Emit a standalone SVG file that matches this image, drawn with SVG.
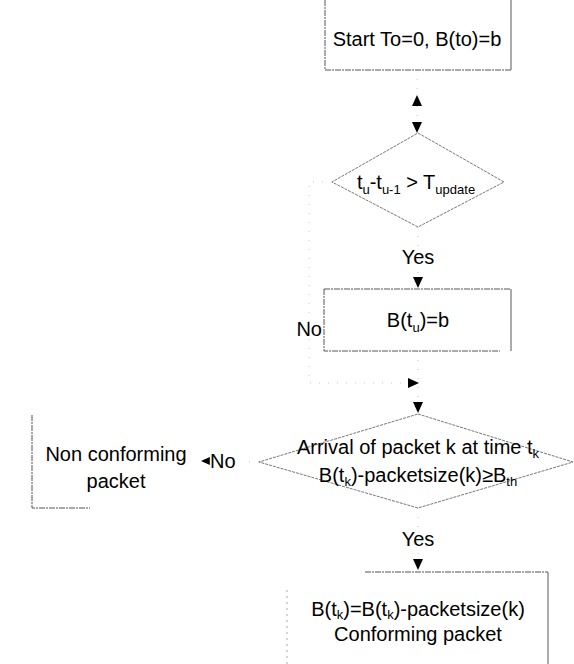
<svg xmlns="http://www.w3.org/2000/svg" xmlns:xlink="http://www.w3.org/1999/xlink" width="574" height="664" viewBox="0 0 574 664">
<style>
  text { font-family: "Liberation Sans", Arial, sans-serif; font-size: 20px; fill: #000; }
  .sub { font-size: 13px; fill: #000; }
  .box { fill: none; stroke: #555; stroke-width: 1; stroke-dasharray: 6 1 2 1; }
  .edge { fill: none; stroke: #888; stroke-width: 1.4; }
  .dia { fill: none; stroke: #666; stroke-width: 0.9; stroke-dasharray: 3 1; }
  .conn { fill: none; stroke: #c8c8c8; stroke-width: 1; stroke-dasharray: 1 8; }
  .arrow { fill: #000; }
</style>
<defs>
  <path id="tri" d="M-5,-11 L5,-11 L0,0 Z"/>
</defs>
<rect width="574" height="664" fill="#fff"/>

<g id="connectors">
  <path class="conn" d="M417,70 V133"/>
  <path class="conn" d="M418,227 V289"/>
  <path class="conn" d="M332,182 H309 V383 H418"/>
  <path class="conn" d="M418,351 V414"/>
  <path class="conn" d="M259,462 H245"/>
  <path class="conn" d="M418,508 V571"/>
  <use class="arrow" xlink:href="#tri" transform="translate(417,95) rotate(180)"/>
  <use class="arrow" xlink:href="#tri" transform="translate(417,133)"/>
  <use class="arrow" xlink:href="#tri" transform="translate(418,288)"/>
  <use class="arrow" xlink:href="#tri" transform="translate(419,383) rotate(-90)"/>
  <use class="arrow" xlink:href="#tri" transform="translate(418,413)"/>
  <use class="arrow" xlink:href="#tri" transform="translate(201,461) rotate(90) scale(0.8)"/>
  <use class="arrow" xlink:href="#tri" transform="translate(418,570)"/>
  <text x="418" y="264" text-anchor="middle">Yes</text>
  <text x="322" y="336" text-anchor="end">No</text>
  <text x="210" y="468">No</text>
  <text x="418" y="546" text-anchor="middle">Yes</text>
</g>

<g id="start">
  <path class="box" d="M325,0 V70 H511"/>
  <path class="edge" d="M511,0 V70"/>
  <text x="417" y="46" text-anchor="middle">Start To=0, B(to)=b</text>
</g>

<g id="check-update">
  <polygon class="dia" points="418,133 504,182 418,227 332,182"/>
  <text x="416" y="189" text-anchor="middle">t<tspan class="sub" dy="5">u</tspan><tspan dy="-5">-t</tspan><tspan class="sub" dy="5">u-1</tspan><tspan dy="-5"> &gt; T</tspan><tspan class="sub" dy="5">update</tspan></text>
</g>

<g id="reset-bucket">
  <path class="box" d="M324,289 H511 M324,289 V351 H500"/>
  <path class="edge" d="M511,289 V351"/>
  <text x="418" y="327" text-anchor="middle">B(t<tspan class="sub" dy="5">u</tspan><tspan dy="-5">)=b</tspan></text>
</g>

<g id="packet-check">
  <polygon class="dia" points="418,414 573,462 418,508 259,462"/>
  <text x="418" y="454" text-anchor="middle">Arrival of packet k at time t<tspan class="sub" dy="4">k</tspan></text>
  <text x="418" y="482" text-anchor="middle">B(t<tspan class="sub" dy="4">k</tspan><tspan dy="-4">)-packetsize(k)≥B</tspan><tspan class="sub" dy="4">th</tspan></text>
</g>

<g id="non-conforming">
  <path class="box" d="M32,415 V508 H90"/>
  <text x="116" y="461" text-anchor="middle">Non conforming</text>
  <text x="116" y="488" text-anchor="middle">packet</text>
</g>

<g id="conforming">
  <path class="box" d="M365,572 H548"/>
  <path class="edge" d="M548,572 V664"/>
  <path class="conn" d="M287,590 V664" style="stroke:#aaa;stroke-dasharray:2 4"/>
  <text x="418" y="616" text-anchor="middle">B(t<tspan class="sub" dy="3">k</tspan><tspan dy="-3">)=B(t</tspan><tspan class="sub" dy="3">k</tspan><tspan dy="-3">)-packetsize(k)</tspan></text>
  <text x="418" y="641" text-anchor="middle">Conforming packet</text>
</g>
</svg>
